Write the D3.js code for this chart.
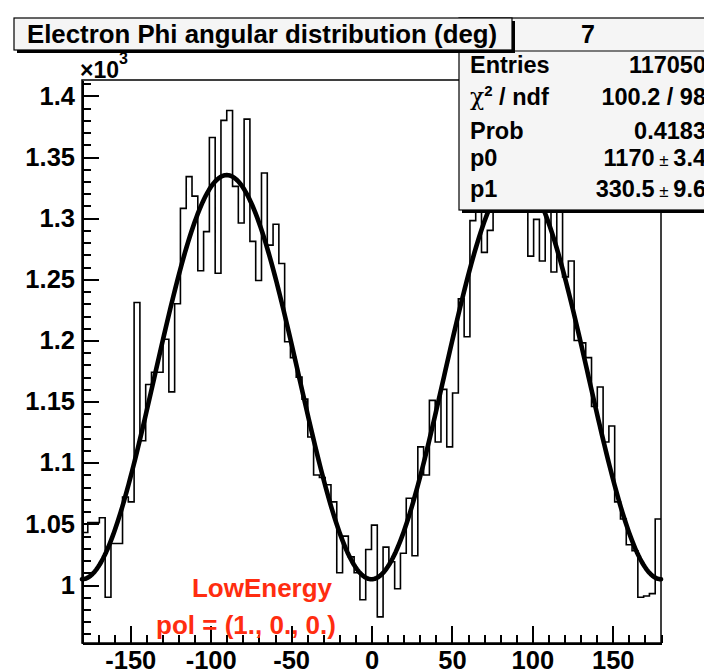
<!DOCTYPE html>
<html>
<head>
<meta charset="utf-8">
<script src="https://cdn.jsdelivr.net/npm/d3@7"></script>
<style>
body{margin:0;background:#fff;}
svg{display:block;font-family:"Liberation Sans",Arial,Helvetica,sans-serif;font-weight:bold;}
</style>
</head>
<body>
<svg id="chart" width="704" height="669"></svg>
<script>
// histogram contents, 100 bins from -180 to 180 deg
var binValues=[1043,1051,1051,1055,990,1034,1034,1072,1068,1231,
               1118,1164,1174,1174,1201,1158,1230,1308,1334,1318,
               1257,1289,1366,1255,1380,1388,1326,1296,1381,1281,
               1249,1337,1278,1295,1263,1199,1186,1170,1152,1121,
               1090,1088,1082,1068,1010,1040,1023,1010,988,1029,
               1049,974,1031,1019,997,1026,1071,1024,1113,1090,
               1151,1117,1160,1113,1157,1234,1203,1298,1310,1272,
               1290,1340,1315,1355,1330,1360,1320,1269,1299,1265,
               1320,1256,1315,1252,1265,1200,1198,1186,1146,1162,
               1117,1130,1068,1054,1033,1028,990,991,993,1054];
var phiRange=[-180,180];
var xTicks=[-150,-100,-50,0,50,100,150];
var yTicks=[1000,1050,1100,1150,1200,1250,1300,1350,1400];
var yRange=[952.6,1413];
var fitP0=1170, fitP1=330.5;
var statNames=["Entries","chi2","Prob","p0","p1"];
var statValues=["117050","100.2 / 98","0.4183","1170","330.5"];
var statErrors=["","","","3.4","9.6"];
var histTitle="Electron Phi angular distribution (deg)";
var statTitle="7";
var notes=["LowEnergy","pol = (1., 0., 0.)"];

var svg=d3.select("#chart");
var frameL=82, frameR=661, frameT=80, frameB=643;

var x=d3.scaleLinear().domain(phiRange).range([frameL,frameR]);
var y=d3.scaleLinear().domain(yRange).range([frameB,frameT]);

svg.append("rect").attr("width",704).attr("height",669).attr("fill","#fff");

// histogram outline
var bw=(phiRange[1]-phiRange[0])/binValues.length;
var steps=[];
binValues.forEach(function(v,i){
    steps.push([phiRange[0]+i*bw,v]);
    steps.push([phiRange[0]+(i+1)*bw,v]);
});
var line=d3.line().x(function(d){return x(d[0]);}).y(function(d){return y(d[1]);});
svg.append("path")
    .attr("d",line(steps))
    .attr("fill","none")
    .attr("stroke","#000")
    .attr("stroke-width",1.6);

// fit function p0 - p1/2*cos(2phi)
var fitPts=d3.range(phiRange[0],phiRange[1]+0.5,1).map(function(p){
    return [p,fitP0-fitP1/2*Math.cos(2*p*Math.PI/180)];
});
svg.append("path")
    .attr("d",line(fitPts))
    .attr("fill","none")
    .attr("stroke","#000")
    .attr("stroke-width",4.6)
    .attr("stroke-linejoin","round")
    .attr("stroke-linecap","round");

// frame
svg.append("rect")
    .attr("x",frameL).attr("y",frameT)
    .attr("width",frameR-frameL).attr("height",frameB-frameT)
    .attr("fill","none").attr("stroke","#000").attr("stroke-width",1.5);

// x axis
svg.append("g")
    .attr("class","axis")
    .attr("transform","translate(0,"+frameB+")")
    .call(d3.axisBottom(x).tickValues(d3.range(-180,181,10)).tickSize(-8.5).tickSizeOuter(0).tickFormat(""));
svg.append("g")
    .attr("class","axis")
    .attr("transform","translate(0,"+frameB+")")
    .call(d3.axisBottom(x).tickValues(xTicks).tickSize(-17).tickSizeOuter(0).tickPadding(8)
        .tickFormat(function(d){return String(d);}));

// y axis
svg.append("g")
    .attr("class","axis")
    .attr("transform","translate("+frameL+",0)")
    .call(d3.axisLeft(y).tickValues(d3.range(960,1411,10)).tickSize(-8.5).tickSizeOuter(0).tickFormat(""));
svg.append("g")
    .attr("class","axis")
    .attr("transform","translate("+frameL+",0)")
    .call(d3.axisLeft(y).tickValues(yTicks).tickSize(-17).tickSizeOuter(0).tickPadding(7)
        .tickFormat(function(d){return String(d/1000);}));

svg.selectAll(".axis path, .axis line")
    .attr("stroke","#000").attr("stroke-width",2).attr("shape-rendering","crispEdges");
svg.selectAll(".axis text")
    .attr("fill","#000").attr("font-size",25.5).attr("font-family","Liberation Sans, Arial, sans-serif").attr("font-weight","bold");

// x10^3 exponent
var expo=svg.append("text").attr("x",80).attr("y",78).attr("font-size",23);
expo.append("tspan").text("\u00d710");
expo.append("tspan").attr("dy",-14).attr("font-size",16).text("3");

// notes in red
svg.selectAll(".note")
    .data(notes)
    .enter()
    .append("text")
    .attr("class","note")
    .attr("x",function(d,i){return [262,246][i];})
    .attr("y",function(d,i){return 597+i*37;})
    .attr("text-anchor","middle")
    .attr("font-size",26)
    .attr("fill","#ff2d10")
    .text(function(d){return d;});

// stats box
var sx=459, sy=18, sw=260, sh=192;
svg.append("rect").attr("x",sx+3).attr("y",sy+3).attr("width",sw).attr("height",sh).attr("fill","#000");
svg.append("rect").attr("x",sx).attr("y",sy).attr("width",sw).attr("height",sh)
    .attr("fill","#f5f5f5").attr("stroke","#000").attr("stroke-width",1.2);
svg.append("line").attr("x1",sx).attr("x2",sx+sw).attr("y1",51).attr("y2",51)
    .attr("stroke","#000").attr("stroke-width",1.2);
svg.append("text").attr("x",588).attr("y",43).attr("text-anchor","middle").attr("font-size",25).text(statTitle);

var rowY=[73,105,139,166,197];
var rows=svg.selectAll(".statrow").data(statNames).enter().append("g").attr("class","statrow");
rows.append("text")
    .attr("x",470)
    .attr("y",function(d,i){return rowY[i];})
    .attr("font-size",23.5)
    .each(function(d){
        var t=d3.select(this);
        if(d==="chi2"){
            t.append("tspan").attr("font-family","DejaVu Serif, serif").attr("font-weight","normal").text("\u03c7");
            t.append("tspan").attr("dy",-9).attr("font-size",15).text("2");
            t.append("tspan").attr("dy",9).text(" / ndf");
        } else {
            t.text(d);
        }
    });
rows.append("text")
    .attr("x",706)
    .attr("y",function(d,i){return rowY[i];})
    .attr("text-anchor","end")
    .attr("font-size",23.5)
    .each(function(d,i){
        var t=d3.select(this);
        t.append("tspan").text(statValues[i]);
        if(statErrors[i]){
            t.append("tspan").attr("font-size",17).attr("font-weight","normal").text(" \u00b1 ");
            t.append("tspan").text(statErrors[i]);
        }
    });

// title box
svg.append("rect").attr("x",17).attr("y",21).attr("width",498).attr("height",32).attr("fill","#000");
svg.append("rect").attr("x",14).attr("y",18).attr("width",498).attr("height",32)
    .attr("fill","#f5f5f5").attr("stroke","#000").attr("stroke-width",1.2);
svg.append("text").attr("x",27).attr("y",43).attr("font-size",25.8).text(histTitle);
</script>
</body>
</html>
